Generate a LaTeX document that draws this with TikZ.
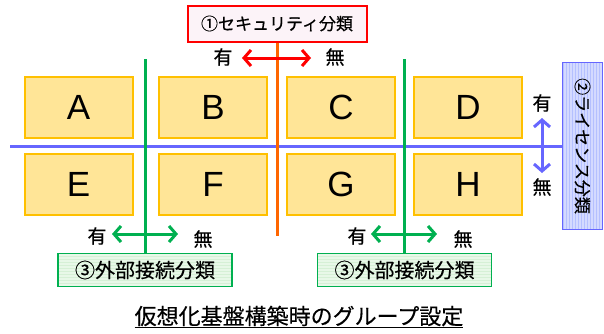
\documentclass[tikz,border=0pt]{standalone}
\usepackage{fontspec}
\setmainfont{Liberation Sans}
\newfontfamily\jp{Noto Sans CJK JP}[FakeBold=0.4]
\usetikzlibrary{arrows.meta}
\definecolor{boxfill}{HTML}{FFE597}
\definecolor{boxline}{HTML}{FFC000}
\definecolor{lblue}{HTML}{6666FF}
\definecolor{licfill}{HTML}{D4DAFF}
\definecolor{licstripe}{HTML}{B4C0FF}
\definecolor{gline}{HTML}{00B050}
\definecolor{gfill}{HTML}{E8F8E8}
\definecolor{gstripe}{HTML}{D6F0D6}
\definecolor{oline}{HTML}{FF6600}
\definecolor{rfill}{HTML}{FCF3F8}
\tikzset{
  grp/.style={draw=boxline, fill=boxfill, line width=2pt, minimum width=108pt, minimum height=61pt, inner sep=0pt, font=\fontsize{35}{35}\selectfont},
  lbl/.style={font=\jp\fontsize{19}{19}\selectfont, inner sep=0pt},
  arr/.style={line width=3pt, {Straight Barb[length=7pt,width=16pt]}-{Straight Barb[length=7pt,width=16pt]}},
  extbox/.style={draw=gline, line width=1.5pt, fill=gfill, minimum width=174pt, minimum height=33pt, inner sep=0pt, font=\jp\fontsize{20}{20}\selectfont,
    path picture={\foreach \i in {0,3,...,36}{\draw[gstripe,line width=0.8pt] ([yshift=-\i pt]path picture bounding box.north west) -- ([yshift=-\i pt]path picture bounding box.north east);}}},
}
\begin{document}
\begin{tikzpicture}[x=1pt,y=-1pt]
\useasboundingbox (0,0) rectangle (604,333);
% boxes
\node[grp] (A) at (78.5,107) {A};
\node[grp] (B) at (213,107) {B};
\node[grp] (C) at (341,107) {C};
\node[grp] (D) at (468,107) {D};
\node[grp] (E) at (78.5,184.5) {E};
\node[grp] (F) at (213,184.5) {F};
\node[grp] (G) at (341,184.5) {G};
\node[grp] (H) at (468,184.5) {H};
% license box
\node[draw=lblue, line width=1.5pt, fill=licfill, minimum width=40pt, minimum height=167pt, inner sep=0pt,
  path picture={\foreach \i in {1,4,...,43}{\draw[licstripe,line width=1.2pt] ([xshift=\i pt]path picture bounding box.south west) -- ([xshift=\i pt]path picture bounding box.north west);}}]
  (lic) at (582.5,146) {};
\node[rotate=-90, font=\jp\fontsize{17}{17}\selectfont, inner sep=0pt] (lict) at (lic.center) {②ライセンス分類};
\coordinate (bl) at (10,146);
\draw[lblue, line width=3pt] (bl) -- (lic.west);
% security box
\node[draw=red, line width=2pt, fill=rfill, minimum width=179pt, minimum height=36pt, inner sep=0pt, font=\jp\fontsize{17}{17}\selectfont] (sec) at (277,23.5) {①セキュリティ分類};
\coordinate (ob) at (277,236);
\draw[oline, line width=3pt] (sec.south) -- (ob);
% green boxes
\node[extbox] (x1) at (145,270) {③外部接続分類};
\node[extbox] (x2) at (404.5,270) {③外部接続分類};
\coordinate (g1) at (145,59);
\coordinate (g2) at (404.5,59);
\draw[gline, line width=3pt] (g1) -- (x1.north);
\draw[gline, line width=3pt] (g2) -- (x2.north);
% arrows and labels
\node[lbl] (sy) at (223,57) {有};
\node[lbl] (sn) at (335,57) {無};
\draw[arr, red] (242,58) -- (311,58);
\node[lbl] (ly) at (542,103) {有};
\node[lbl] (ln) at (542,187) {無};
\draw[arr, lblue] (542,118) -- (542,173);
\node[lbl] (y1) at (97,236) {有};
\node[lbl] (n1) at (203,239) {無};
\draw[arr, gline] (112,234) -- (178,234);
\node[lbl] (y2) at (357,236) {有};
\node[lbl] (n2) at (463,239) {無};
\draw[arr, gline] (371,234) -- (437,234);
% title
\node[font=\jp\fontsize{22}{22}\selectfont, inner sep=0pt] (title) at (299,317) {\underline{仮想化基盤構築時のグループ設定}};
\end{tikzpicture}
\end{document}
